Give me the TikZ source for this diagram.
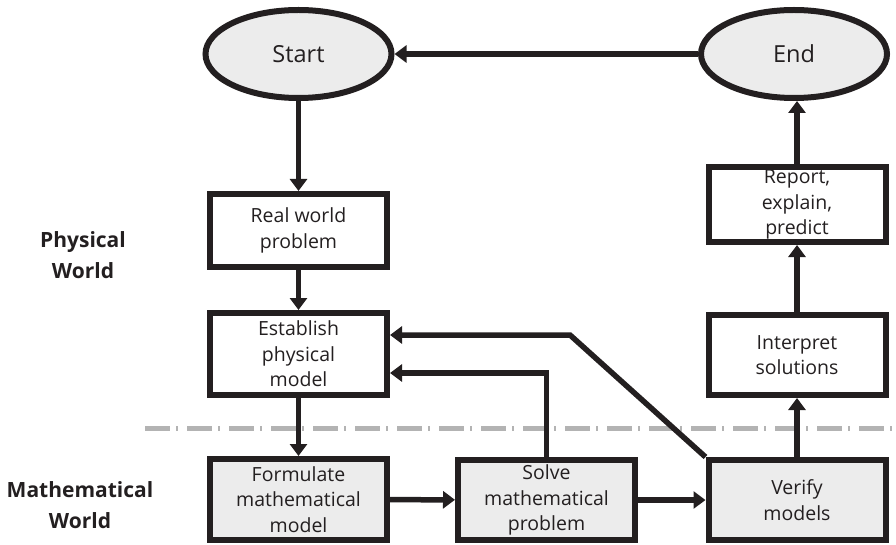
\documentclass[tikz,border=0pt]{standalone}
\usepackage{fontspec}
\setmainfont{Open Sans}
\usetikzlibrary{arrows.meta,shapes.geometric,calc}
\definecolor{boxgray}{HTML}{ECECEC}
\definecolor{lineink}{HTML}{231F20}
\definecolor{divider}{HTML}{B3B3B3}
\begin{document}
\begin{tikzpicture}[x=1pt,y=-1pt,
  stepbox/.style={draw=lineink,line width=6pt,rectangle,inner sep=0pt,
    minimum width=177pt,align=center,font=\fontsize{19.5}{25.5}\selectfont,text=lineink},
  mathbox/.style={stepbox,fill=boxgray},
  terminal/.style={draw=lineink,line width=6pt,ellipse,fill=boxgray,inner sep=0pt,
    minimum width=186pt,minimum height=88pt,font=\fontsize{23.5}{28}\selectfont,text=lineink},
  arr/.style={draw=lineink,line width=5.5pt,-{Triangle[width=17pt,length=12pt]}},
  worldlabel/.style={align=center,font=\bfseries\fontsize{21}{31}\selectfont,text=lineink}]
\useasboundingbox (0,0) rectangle (896,545);

% terminals
\node[terminal] (start) at (298.5,54) {Start};
\node[terminal] (end) at (794,54) {End};

% physical world steps
\node[stepbox,minimum height=73pt] (real) at (298.5,230.5) {Real world\\problem};
\node[stepbox,minimum height=82pt] (est) at (298.5,354) {Establish\\physical\\model};
\node[stepbox,minimum height=75pt] (report) at (797,204.5) {Report,\\explain,\\predict};
\node[stepbox,minimum height=80pt] (interp) at (797,355) {Interpret\\solutions};

% mathematical world steps
\node[mathbox,minimum height=81pt] (form) at (298.5,499.5) {Formulate\\mathematical\\model};
\node[mathbox,minimum height=80pt] (solve) at (546.5,500) {Solve\\mathematical\\problem};
\node[mathbox,minimum height=80pt] (verify) at (797,500) {Verify\\models};

% world labels
\node[worldlabel] (phys) at (83,255) {Physical\\World};
\node[worldlabel] (math) at (80,505) {Mathematical\\World};

% divider between the two worlds
\draw[divider,line width=5pt,dash pattern=on 25pt off 6pt on 2pt off 9pt] (145,428) -- (896,428);

% main flow
\draw[arr] (end.west) -- (start.east);
\draw[arr] (real.north |- start.south) -- (real.north);
\draw[arr] (real) -- (est);
\draw[arr] (est) -- (form);
\draw[arr] (form) -- (solve);
\draw[arr] (solve) -- (verify);
\draw[arr] (verify) -- (interp);
\draw[arr] (interp) -- (report);
\draw[arr] (report.north) -- (report.north |- end.south);

% feedback paths
\coordinate (bend) at (570,335);
\draw[arr] (solve.north) |- ($(est.east)+(0,19)$);
\draw[arr,line join=miter] (verify.north west) -- (bend) -- (est.east |- bend);
\end{tikzpicture}
\end{document}
